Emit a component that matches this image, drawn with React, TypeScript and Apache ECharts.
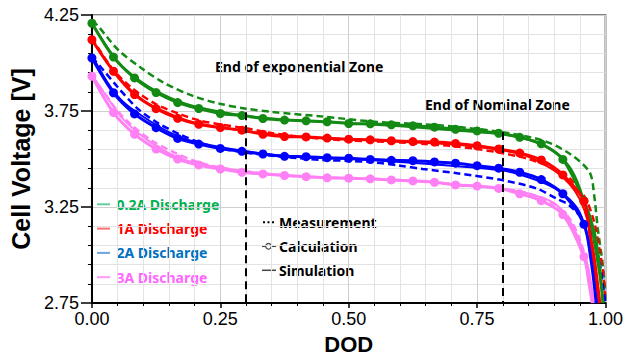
import React, { useEffect, useRef } from "react";
import * as echarts from "echarts";

// ---------- data (DOD vs cell voltage [V]) ----------
const Y0 = 2.75; // bottom of the voltage axis

const CALC_DOD = [0, 0.042, 0.083, 0.125, 0.167, 0.208, 0.25, 0.292, 0.333, 0.375, 0.417, 0.458, 0.5, 0.542, 0.583, 0.625, 0.667, 0.708, 0.75, 0.792, 0.833, 0.875, 0.917, 0.958];

const GREEN_CALC = [4.207, 4.031, 3.922, 3.846, 3.794, 3.763, 3.737, 3.726, 3.711, 3.703, 3.699, 3.694, 3.685, 3.683, 3.678, 3.673, 3.666, 3.655, 3.646, 3.634, 3.613, 3.579, 3.498, 3.283];
const GREEN_TAIL_DOD = [0.978, 0.988, 0.995];
const GREEN_TAIL_V = [3.12, 2.95, 2.75];

const RED_CALC = [4.121, 3.957, 3.836, 3.762, 3.712, 3.681, 3.664, 3.65, 3.629, 3.617, 3.615, 3.609, 3.603, 3.6, 3.595, 3.591, 3.588, 3.581, 3.569, 3.552, 3.531, 3.495, 3.417, 3.28];
const RED_TAIL_DOD = [0.972, 0.98, 0.988];
const RED_TAIL_V = [3.05, 2.9, 2.75];

const BLUE_CALC = [4.026, 3.845, 3.735, 3.663, 3.607, 3.578, 3.555, 3.54, 3.526, 3.514, 3.512, 3.507, 3.504, 3.498, 3.493, 3.491, 3.485, 3.478, 3.465, 3.452, 3.431, 3.393, 3.319, 3.16];
const BLUE_TAIL_DOD = [0.972, 0.982];
const BLUE_TAIL_V = [2.97, 2.75];

const PINK_CALC = [3.931, 3.742, 3.629, 3.552, 3.5, 3.469, 3.448, 3.431, 3.422, 3.414, 3.408, 3.402, 3.4, 3.397, 3.391, 3.386, 3.379, 3.365, 3.359, 3.347, 3.319, 3.283, 3.211, 2.991];
const PINK_TAIL_DOD = [0.968, 0.974];
const PINK_TAIL_V = [2.85, 2.75];

// Measurement (dashed)
const GREEN_MEAS_DOD = [0, 0.01, 0.051, 0.096, 0.14, 0.198, 0.249, 0.3, 0.351, 0.446, 0.555, 0.644, 0.72, 0.803, 0.88, 0.931, 0.969, 0.978, 0.985, 0.994, 0.999, 1.0];
const GREEN_MEAS_V = [4.22, 4.198, 4.069, 3.974, 3.897, 3.827, 3.788, 3.762, 3.745, 3.722, 3.693, 3.681, 3.665, 3.638, 3.595, 3.526, 3.431, 3.31, 3.138, 2.966, 2.827, 2.75];

const RED_MEAS_DOD = [0, 0.04, 0.08, 0.125, 0.17, 0.21, 0.25, 0.3, 0.35, 0.4, 0.45, 0.5, 0.55, 0.6, 0.65, 0.7, 0.75, 0.8, 0.85, 0.9, 0.93, 0.96, 0.978, 0.988, 0.996, 0.9995];
const RED_MEAS_V = [4.13, 3.97, 3.865, 3.785, 3.735, 3.7, 3.68, 3.66, 3.635, 3.618, 3.605, 3.597, 3.592, 3.586, 3.578, 3.568, 3.552, 3.53, 3.5, 3.45, 3.4, 3.3, 3.172, 3.034, 2.896, 2.759];

const BLUE_MEAS_DOD = [0, 0.02, 0.05, 0.09, 0.13, 0.17, 0.21, 0.25, 0.3, 0.35, 0.4, 0.45, 0.5, 0.55, 0.6, 0.644, 0.708, 0.803, 0.867, 0.905, 0.93, 0.969, 0.988, 0.9975, 1.0];
const BLUE_MEAS_V = [4.03, 3.97, 3.875, 3.76, 3.685, 3.63, 3.585, 3.556, 3.533, 3.517, 3.505, 3.495, 3.49, 3.482, 3.465, 3.448, 3.427, 3.388, 3.345, 3.293, 3.258, 3.138, 2.967, 2.793, 2.75];

const PINK_MEAS_DOD = [0, 0.02, 0.05, 0.08, 0.12, 0.16, 0.2, 0.25, 0.3, 0.4, 0.5, 0.6, 0.7, 0.8, 0.85, 0.9, 0.93, 0.95, 0.965, 0.976];
const PINK_MEAS_V = [3.93, 3.86, 3.75, 3.67, 3.59, 3.535, 3.49, 3.455, 3.435, 3.41, 3.4, 3.39, 3.37, 3.345, 3.32, 3.265, 3.19, 3.08, 2.94, 2.75];

// Simulation (solid, no markers)
const GREEN_SIM_DOD = [0, 0.05, 0.1, 0.15, 0.2, 0.3, 0.4, 0.5, 0.6, 0.7, 0.8, 0.85, 0.9, 0.93, 0.95, 0.97, 0.985, 0.996];
const GREEN_SIM_V = [4.21, 4.01, 3.895, 3.822, 3.775, 3.725, 3.7, 3.686, 3.67, 3.65, 3.628, 3.6, 3.54, 3.46, 3.35, 3.17, 2.95, 2.75];

const RED_SIM_DOD = [0, 0.05, 0.1, 0.15, 0.2, 0.3, 0.4, 0.5, 0.6, 0.7, 0.8, 0.85, 0.9, 0.93, 0.95, 0.965, 0.978, 0.99];
const RED_SIM_V = [4.12, 3.93, 3.805, 3.738, 3.69, 3.645, 3.617, 3.603, 3.59, 3.577, 3.545, 3.512, 3.44, 3.37, 3.29, 3.18, 3.0, 2.75];

const BLUE_SIM_DOD = [0, 0.03, 0.06, 0.1, 0.15, 0.2, 0.3, 0.4, 0.5, 0.6, 0.7, 0.8, 0.85, 0.9, 0.93, 0.95, 0.965, 0.975, 0.985];
const BLUE_SIM_V = [4.04, 3.9, 3.8, 3.72, 3.64, 3.59, 3.54, 3.51, 3.5, 3.485, 3.465, 3.44, 3.405, 3.35, 3.29, 3.22, 3.1, 2.95, 2.75];

const PINK_SIM_DOD = [0, 0.03, 0.06, 0.1, 0.15, 0.2, 0.3, 0.4, 0.5, 0.6, 0.7, 0.8, 0.85, 0.9, 0.93, 0.95, 0.965, 0.972, 0.978];
const PINK_SIM_V = [3.94, 3.82, 3.71, 3.615, 3.53, 3.48, 3.435, 3.41, 3.4, 3.39, 3.37, 3.345, 3.32, 3.27, 3.18, 3.07, 2.95, 2.85, 2.75];

// zone boundaries
const ZONE_DOD = [0.3, 0.8];
const ZONE_TOP_V = [3.743, 3.64];

// axis ticks
const X_TICKS = [0, 0.25, 0.5, 0.75, 1.0];
const Y_TICKS = [2.75, 3.25, 3.75, 4.25];

const RATES = ["0.2A Discharge", "1A Discharge", "2A Discharge", "3A Discharge"];
const LINE_COLORS = ["#138a13", "#ff0000", "#0000ff", "#ff80f4"];
const TEXT_COLORS = ["#00b050", "#ff0000", "#0070c0", "#ff66ff"];
const LEGEND_LINE_COLORS = ["#66cc99", "#ff6f6f", "#6aa6dc", "#ff99ff"];
const STYLE_LABELS = ["Measurement", "Calculation", "Simulation"];

const toPts = (xs: number[], vs: number[]) => xs.map((x, i) => [x, +(vs[i] - Y0).toFixed(4)]);

export default function App() {
  const ref = useRef<HTMLDivElement>(null);
  useEffect(() => {
    document.body.style.margin = "0";
    if (!ref.current) return;
    const chart = echarts.init(ref.current, undefined, { renderer: "svg" });

    const calcSets = [
      [GREEN_CALC, GREEN_TAIL_DOD, GREEN_TAIL_V],
      [RED_CALC, RED_TAIL_DOD, RED_TAIL_V],
      [BLUE_CALC, BLUE_TAIL_DOD, BLUE_TAIL_V],
      [PINK_CALC, PINK_TAIL_DOD, PINK_TAIL_V],
    ] as number[][][];
    const measSets = [
      [GREEN_MEAS_DOD, GREEN_MEAS_V],
      [RED_MEAS_DOD, RED_MEAS_V],
      [BLUE_MEAS_DOD, BLUE_MEAS_V],
      [PINK_MEAS_DOD, PINK_MEAS_V],
    ];
    const simSets = [
      [GREEN_SIM_DOD, GREEN_SIM_V],
      [RED_SIM_DOD, RED_SIM_V],
      [BLUE_SIM_DOD, BLUE_SIM_V],
      [PINK_SIM_DOD, PINK_SIM_V],
    ];

    const SMOOTH = 0.3;
    const series: any[] = [];
    measSets.forEach((s, i) => {
      series.push({
        name: RATES[i] + " Measurement",
        type: "line",
        data: toPts(s[0], s[1]),
        smooth: SMOOTH,
        showSymbol: false,
        lineStyle: { color: LINE_COLORS[i], width: 2.5, type: [7, 4] },
        z: 2,
        ...(i === 0
          ? {
              markLine: {
                silent: true,
                symbol: "none",
                label: { show: false },
                lineStyle: { color: "#000", width: 2, type: [8, 5] },
                data: ZONE_DOD.map((d, j) => [
                  { coord: [d, ZONE_TOP_V[j] - Y0] },
                  { coord: [d, 0] },
                ]),
              },
            }
          : {}),
      });
    });
    simSets.forEach((s, i) => {
      series.push({
        name: RATES[i] + " Simulation",
        type: "line",
        data: toPts(s[0], s[1]),
        smooth: SMOOTH,
        showSymbol: false,
        lineStyle: { color: LINE_COLORS[i], width: 2 },
        z: 3,
      });
    });
    calcSets.forEach((s, i) => {
      const main = CALC_DOD.map((x, k) => [x, +(s[0][k] - Y0).toFixed(4)]);
      const tail = s[1].map((x, k) => ({ value: [x, +(s[2][k] - Y0).toFixed(4)], symbol: "none" }));
      series.push({
        name: RATES[i] + " Calculation",
        type: "line",
        data: [...main, ...tail],
        smooth: SMOOTH,
        symbol: "circle",
        symbolSize: 9,
        showAllSymbol: true,
        itemStyle: { color: LINE_COLORS[i] },
        lineStyle: { color: LINE_COLORS[i], width: 3 },
        z: 4,
      });
    });

    const legendFont = '"Noto Sans", sans-serif';
    const textStyle = (text: string, fill: string) => ({
      text,
      fill,
      fontFamily: legendFont,
      fontWeight: "bold",
      fontSize: 14,
      align: "left",
      verticalAlign: "middle",
    });
    const graphics: any[] = [];
    RATES.forEach((r, i) => {
      const y = 204.3 + i * 24.3;
      graphics.push({
        type: "line",
        shape: { x1: 97, y1: y, x2: 110, y2: y },
        style: { stroke: LEGEND_LINE_COLORS[i], lineWidth: 2 },
      });
      graphics.push({ type: "text", x: 116.5, y, style: textStyle(r, TEXT_COLORS[i]) });
    });
    STYLE_LABELS.forEach((s, i) => {
      const y = 222.3 + i * 24;
      if (i === 0) {
        graphics.push({
          type: "line",
          shape: { x1: 263, y1: y, x2: 276, y2: y },
          style: { stroke: "#000", lineWidth: 2, lineDash: [2, 2.5] },
        });
      } else {
        graphics.push({
          type: "line",
          shape: { x1: 262, y1: y, x2: 276, y2: y },
          style: { stroke: "#444", lineWidth: 1.5 },
        });
        if (i === 1) {
          graphics.push({
            type: "circle",
            shape: { cx: 268.5, cy: y, r: 2.8 },
            style: { fill: "#fff", stroke: "#444", lineWidth: 1.2 },
          });
        }
      }
      graphics.push({ type: "text", x: 279, y, style: textStyle(s, "#000") });
    });
    graphics.push({ type: "text", x: 215, y: 66.7, style: textStyle("End of exponential Zone", "#000") });
    graphics.push({ type: "text", x: 425, y: 104.3, style: textStyle("End of Nominal Zone", "#000") });

    const near = (v: number, list: number[]) => list.some((t) => Math.abs(t - v) < 1e-6);

    chart.setOption({
      animation: false,
      backgroundColor: "#fff",
      grid: {
        left: 83,
        top: 15,
        right: 19.5,
        bottom: 55,
        show: true,
        borderColor: "#808080",
        borderWidth: 2,
        backgroundColor: "transparent",
      },
      xAxis: {
        type: "value",
        min: 0,
        max: 1,
        interval: 0.25,
        name: "DOD",
        nameLocation: "middle",
        nameGap: 30,
        nameTextStyle: { fontFamily: '"Liberation Sans", Arial, sans-serif', fontWeight: "bold", fontSize: 22, color: "#000" },
        axisLine: { lineStyle: { color: "#000", width: 2 } },
        axisTick: { show: true, inside: false, length: 5, lineStyle: { color: "#000", width: 1.5 } },
        minorTick: { show: true, splitNumber: 5, length: 3, lineStyle: { color: "#000", width: 1 } },
        splitLine: { show: true, lineStyle: { color: "#cfcfcf", width: 1 } },
        minorSplitLine: { show: true, lineStyle: { color: "#e3e3e3", width: 1 } },
        axisLabel: {
          color: "#000",
          fontFamily: '"Liberation Sans", Arial, sans-serif',
          fontSize: 18,
          margin: 7,
          formatter: (v: number) => (near(v, X_TICKS) ? v.toFixed(2) : ""),
        },
      },
      yAxis: {
        type: "value",
        min: 0,
        max: 1.5,
        interval: 0.5,
        name: "Cell Voltage [V]",
        nameLocation: "middle",
        nameRotate: 90,
        nameGap: 52,
        nameTextStyle: { fontFamily: '"Liberation Sans", Arial, sans-serif', fontWeight: "bold", fontSize: 25, color: "#000" },
        axisLine: { show: true, lineStyle: { color: "#000", width: 2 } },
        axisTick: { show: true, inside: false, length: 11, lineStyle: { color: "#000", width: 1.5 } },
        minorTick: { show: true, splitNumber: 5, length: 4, lineStyle: { color: "#000", width: 1 } },
        splitLine: { show: true, lineStyle: { color: "#cfcfcf", width: 1 } },
        minorSplitLine: { show: true, lineStyle: { color: "#e3e3e3", width: 1 } },
        axisLabel: {
          color: "#000",
          fontFamily: '"Liberation Sans", Arial, sans-serif',
          fontSize: 18,
          margin: 13,
          formatter: (v: number) => {
            const real = +(v + Y0).toFixed(4);
            return near(real, Y_TICKS) ? real.toFixed(2) : "";
          },
        },
      },
      series,
      graphic: graphics,
    });
    return () => chart.dispose();
  }, []);
  return <div ref={ref} style={{ width: 626, height: 360 }} />;
}
